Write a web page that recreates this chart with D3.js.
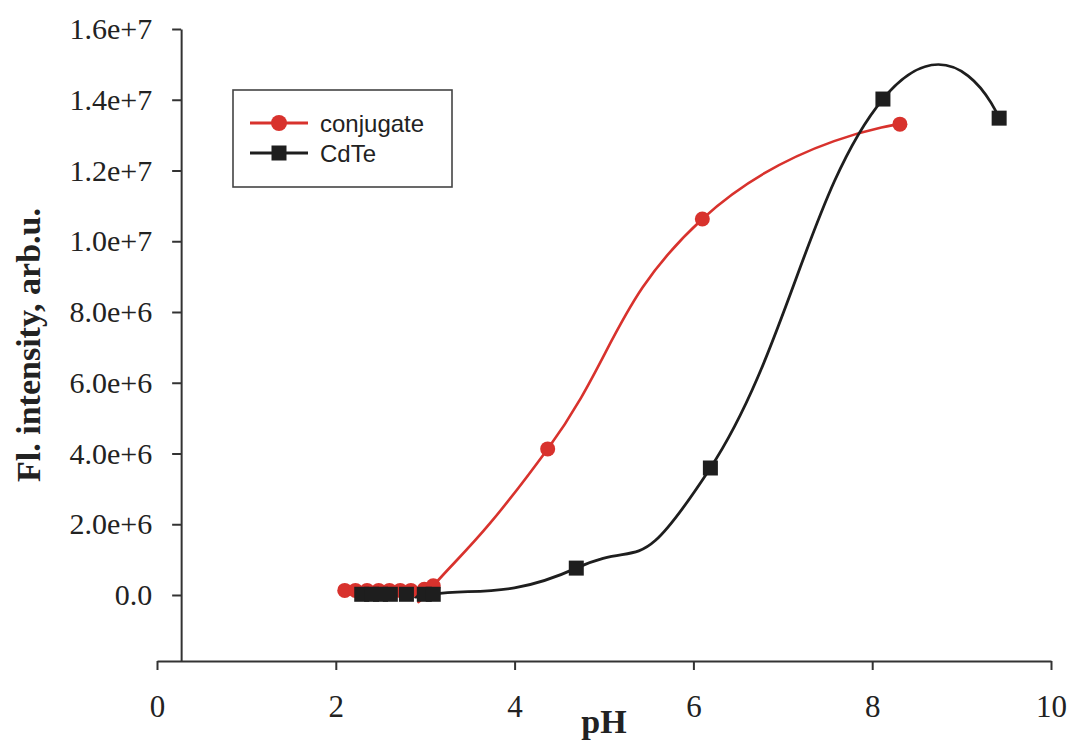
<!DOCTYPE html>
<html>
<head>
<meta charset="utf-8">
<script src="https://cdn.jsdelivr.net/npm/d3@7"></script>
<style>
  html, body { margin: 0; padding: 0; background: #fff; }
  svg { display: block; }
</style>
</head>
<body>
<svg id="chart" width="1071" height="745"></svg>
<script>
// Fluorescence intensity vs pH for the conjugate and bare CdTe dots
const conjugatePH = [2.10, 2.22, 2.35, 2.48, 2.60, 2.72, 2.84, 2.99, 3.09, 4.37, 6.10, 8.31];
const conjugateFl = [1.3e5, 1.3e5, 1.3e5, 1.3e5, 1.3e5, 1.3e5, 1.3e5, 1.6e5, 2.6e5, 4.13e6, 1.063e7, 1.331e7];

const cdtePH = [2.29, 2.40, 2.50, 2.61, 2.79, 2.99, 3.09, 4.69, 6.19, 8.12, 9.42];
const cdteFl = [2e4, 2e4, 2e4, 2e4, 2e4, 2e4, 2e4, 7.6e5, 3.59e6, 1.402e7, 1.348e7];

const xTicks = [0, 2, 4, 6, 8, 10];
const yTicks = [0, 2e6, 4e6, 6e6, 8e6, 1e7, 1.2e7, 1.4e7, 1.6e7];
const seriesNames = ["conjugate", "CdTe"];

const svg = d3.select("#chart");
const RED = "#d8322d";
const DARK = "#1e1e1e";
const AXIS = "#333";

const x = d3.scaleLinear().domain([0, 10]).range([157, 1051]);
const y = d3.scaleLinear().domain([-1.866e6, 1.6e7]).range([661, 29]);
const yAxisAt = 0.27; // pH value where the vertical axis crosses

// axes
const xAxis = svg.append("g")
  .attr("transform", `translate(0,${y.range()[0]})`)
  .call(d3.axisBottom(x).tickValues(xTicks).tickFormat(d3.format("d")).tickSize(9).tickSizeOuter(0));
xAxis.select(".domain").attr("stroke", AXIS).attr("stroke-width", 2);
xAxis.selectAll(".tick line").attr("stroke", AXIS).attr("stroke-width", 2);
xAxis.selectAll(".tick text")
  .attr("y", 56).attr("dy", 0)
  .attr("font-family", "'Liberation Serif', 'Times New Roman', serif")
  .attr("font-size", 31).attr("fill", "#222");

const yAxis = svg.append("g")
  .attr("transform", `translate(${x(yAxisAt)},0)`)
  .call(d3.axisLeft(y).tickValues(yTicks)
    .tickFormat(d => d === 0 ? "0.0" : d3.format(".1e")(d))
    .tickSize(9).tickSizeOuter(0).tickPadding(20));
yAxis.select(".domain").attr("stroke", AXIS).attr("stroke-width", 2);
yAxis.selectAll(".tick line").attr("stroke", AXIS).attr("stroke-width", 2);
yAxis.selectAll(".tick text")
  .attr("font-family", "'Liberation Serif', 'Times New Roman', serif")
  .attr("font-size", 30).attr("fill", "#222");

// axis titles
svg.append("text")
  .attr("x", (x.range()[0] + x.range()[1]) / 2).attr("y", 733)
  .attr("text-anchor", "middle")
  .attr("font-family", "'Liberation Serif', 'Times New Roman', serif")
  .attr("font-weight", "bold").attr("font-size", 34).attr("fill", "#222")
  .text("pH");

svg.append("text")
  .attr("transform", `translate(40,${(y.range()[0] + y.range()[1]) / 2}) rotate(-90)`)
  .attr("text-anchor", "middle")
  .attr("font-family", "'Liberation Serif', 'Times New Roman', serif")
  .attr("font-weight", "bold").attr("font-size", 34).attr("fill", "#222")
  .text("Fl. intensity, arb.u.");

// smoothed series lines
const curve = d3.curveCardinal.tension(-0.5);
const line = d3.line().x(d => x(d[0])).y(d => y(d[1])).curve(curve);

const conjugate = conjugatePH.map((p, i) => [p, conjugateFl[i]]);
const cdte = cdtePH.map((p, i) => [p, cdteFl[i]]);

svg.append("path").datum(conjugate).attr("d", line)
  .attr("fill", "none").attr("stroke", RED).attr("stroke-width", 2.6);
svg.append("path").datum(cdte).attr("d", line)
  .attr("fill", "none").attr("stroke", DARK).attr("stroke-width", 2.8);

svg.append("g").selectAll("circle").data(conjugate).join("circle")
  .attr("cx", d => x(d[0])).attr("cy", d => y(d[1])).attr("r", 7.5)
  .attr("fill", RED);

const sq = 15;
svg.append("g").selectAll("rect").data(cdte).join("rect")
  .attr("x", d => x(d[0]) - sq / 2).attr("y", d => y(d[1]) - sq / 2)
  .attr("width", sq).attr("height", sq)
  .attr("fill", DARK);

// legend
const legend = svg.append("g");
legend.append("rect")
  .attr("x", 233).attr("y", 90).attr("width", 219).attr("height", 97)
  .attr("fill", "#fff").attr("stroke", "#444").attr("stroke-width", 1.6);

const legendRows = [
  { name: seriesNames[0], color: RED, marker: "circle", yy: 123 },
  { name: seriesNames[1], color: DARK, marker: "square", yy: 153 }
];
legendRows.forEach(r => {
  legend.append("line")
    .attr("x1", 250).attr("x2", 308).attr("y1", r.yy).attr("y2", r.yy)
    .attr("stroke", r.color).attr("stroke-width", 2.8);
  if (r.marker === "circle") {
    legend.append("circle").attr("cx", 279).attr("cy", r.yy).attr("r", 8).attr("fill", r.color);
  } else {
    legend.append("rect").attr("x", 279 - sq / 2).attr("y", r.yy - sq / 2)
      .attr("width", sq).attr("height", sq).attr("fill", r.color);
  }
  legend.append("text")
    .attr("x", 320).attr("y", r.yy).attr("dy", "0.36em")
    .attr("font-family", "'Liberation Sans', Arial, sans-serif")
    .attr("font-size", 24).attr("fill", "#222")
    .text(r.name);
});
</script>
</body>
</html>
